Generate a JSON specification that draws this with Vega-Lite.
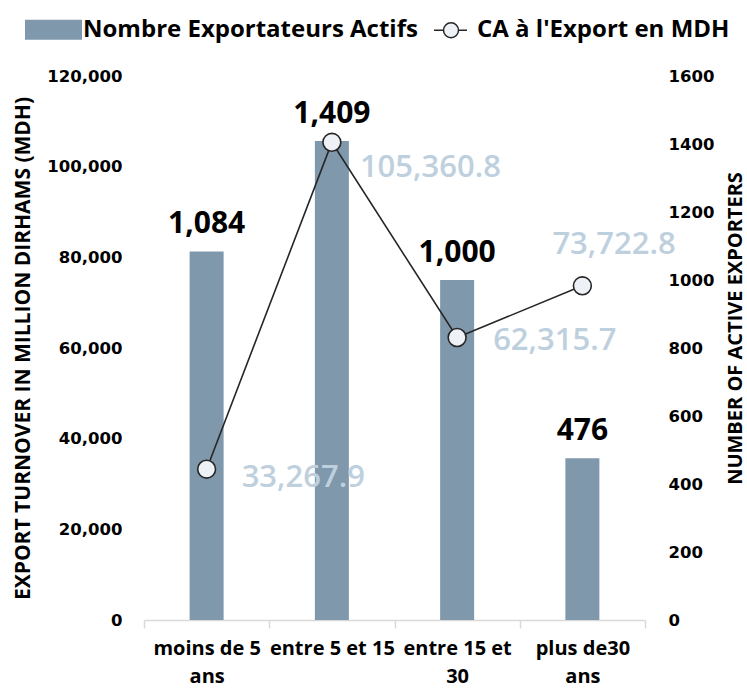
{
  "$schema": "https://vega.github.io/schema/vega-lite/v6.json",
  "width": 501,
  "height": 544,
  "autosize": {"type": "none"},
  "padding": {"left": 144, "top": 76, "right": 102, "bottom": 72},
  "background": "white",
  "config": {"view": {"stroke": null}, "font": "Open Sans"},
  "data": {
    "values": [
      {"tranche": "moins de 5 ans", "exportateurs": 1084, "ca": 33267.9},
      {"tranche": "entre 5 et 15", "exportateurs": 1409, "ca": 105360.8},
      {"tranche": "entre 15 et 30", "exportateurs": 1000, "ca": 62315.7},
      {"tranche": "plus de30 ans", "exportateurs": 476, "ca": 73722.8}
    ]
  },
  "encoding": {
    "x": {
      "field": "tranche",
      "type": "nominal",
      "sort": null,
      "scale": {"paddingInner": 0, "paddingOuter": 0},
      "axis": {
        "title": null,
        "labelAngle": 0,
        "tickBand": "extent",
        "tickSize": 8,
        "tickColor": "#D9D9D9",
        "tickWidth": 1.5,
        "domainColor": "#D9D9D9",
        "domainWidth": 1.5,
        "labelFont": "Open Sans",
        "labelFontWeight": "bold",
        "labelFontSize": 20,
        "labelColor": "#000000",
        "labelPadding": 10,
        "labelLineHeight": 28,
        "labelOverlap": false,
        "labelExpr": "!isString(datum.value) ? '' : datum.value == 'entre 5 et 15' ? datum.value : [slice(datum.value, 0, lastindexof(datum.value, ' ')), slice(datum.value, lastindexof(datum.value, ' ') + 1)]"
      }
    }
  },
  "layer": [
    {
      "layer": [
        {
          "mark": {"type": "bar", "size": 34},
          "encoding": {
            "y": {
              "field": "exportateurs",
              "type": "quantitative",
              "stack": null,
              "scale": {"domain": [0, 1600]},
              "axis": {
                "orient": "right",
                "title": "NUMBER OF ACTIVE EXPORTERS",
                "values": [0, 200, 400, 600, 800, 1000, 1200, 1400, 1600],
                "format": "d",
                "ticks": false,
                "domain": false,
                "grid": false,
                "labelPadding": 23,
                "labelFont": "DejaVu Sans",
                "labelFontWeight": "bold",
                "labelFontSize": 16.5,
                "labelColor": "#000000",
                "titleFont": "Open Sans",
                "titleFontWeight": "bold",
                "titleFontSize": 20,
                "titleColor": "#000000",
                "titleAngle": 270,
                "titleX": 90,
                "titleY": 252,
                "titleAlign": "center",
                "titleBaseline": "middle"
              }
            },
            "color": {
              "datum": "Nombre Exportateurs Actifs",
              "type": "nominal",
              "scale": {
                "domain": ["Nombre Exportateurs Actifs", "CA à l'Export en MDH"],
                "range": ["#8098AC", "#EEF2F6"]
              },
              "legend": {
                "orient": "none",
                "legendX": -120,
                "legendY": -76,
                "direction": "horizontal",
                "title": null,
                "padding": 0,
                "labelFont": "Open Sans",
                "labelFontWeight": "bold",
                "labelFontSize": 24,
                "labelColor": "#000000",
                "labelOffset": 0,
                "columnPadding": -11,
                "labelLimit": 0,
                "symbolSize": 3249,
                "symbolStrokeWidth": 1.5,
                "encode": {
                  "symbols": {
                    "update": {
                      "shape": {"signal": "datum.index === 0 ? 'M-1,-0.35H1V0.35H-1Z' : 'M-0.474,0H-0.14M0.386,0H0.684M-0.14,0A0.263,0.263,0,1,0,0.386,0A0.263,0.263,0,1,0,-0.14,0Z'"},
                      "size": {"value": 3249},
                      "strokeWidth": {"value": 1.5},
                      "stroke": {"signal": "datum.index === 0 ? 'transparent' : '#262626'"},
                      "opacity": {"value": 1},
                      "fillOpacity": {"value": 1},
                      "strokeOpacity": {"value": 1}
                    }
                  }
                }
              }
            }
          }
        },
        {
          "mark": {"type": "text", "baseline": "alphabetic", "align": "center", "dy": -18, "font": "Open Sans", "fontSize": 30, "fontWeight": "bold", "fill": "#000000"},
          "encoding": {
            "y": {"field": "exportateurs", "type": "quantitative"},
            "text": {"field": "exportateurs", "type": "quantitative", "format": ",d"}
          }
        }
      ]
    },
    {
      "layer": [
        {
          "mark": {"type": "line", "strokeWidth": 1.6, "stroke": "#262626"},
          "encoding": {
            "y": {
              "field": "ca",
              "type": "quantitative",
              "scale": {"domain": [0, 120000]},
              "axis": {
                "orient": "left",
                "title": "EXPORT TURNOVER IN MILLION DIRHAMS (MDH)",
                "values": [0, 20000, 40000, 60000, 80000, 100000, 120000],
                "format": ",d",
                "ticks": false,
                "domain": false,
                "grid": false,
                "labelPadding": 22,
                "labelFont": "DejaVu Sans",
                "labelFontWeight": "bold",
                "labelFontSize": 16.5,
                "labelColor": "#000000",
                "titleFont": "Open Sans",
                "titleFontWeight": "bold",
                "titleFontSize": 21,
                "titleColor": "#000000",
                "titleAngle": 270,
                "titleX": -121,
                "titleY": 272,
                "titleAlign": "center",
                "titleBaseline": "middle"
              }
            }
          }
        },
        {
          "mark": {"type": "point", "shape": "circle", "filled": true, "fill": "#EEF2F6", "stroke": "#262626", "strokeWidth": 1.6, "size": 320, "opacity": 1},
          "encoding": {"y": {"field": "ca", "type": "quantitative"}}
        },
        {
          "transform": [{"filter": "datum.tranche == 'moins de 5 ans'"}],
          "mark": {"type": "text", "align": "left", "baseline": "middle", "dx": 35, "dy": 9, "font": "Open Sans", "fontSize": 31, "fontWeight": 600, "fill": "#BED0DE"},
          "encoding": {"y": {"field": "ca", "type": "quantitative"}, "text": {"field": "ca", "type": "quantitative", "format": ",.1f"}}
        },
        {
          "transform": [{"filter": "datum.tranche == 'entre 5 et 15'"}],
          "mark": {"type": "text", "align": "left", "baseline": "middle", "dx": 28, "dy": 26, "font": "Open Sans", "fontSize": 31, "fontWeight": 600, "fill": "#BED0DE"},
          "encoding": {"y": {"field": "ca", "type": "quantitative"}, "text": {"field": "ca", "type": "quantitative", "format": ",.1f"}}
        },
        {
          "transform": [{"filter": "datum.tranche == 'entre 15 et 30'"}],
          "mark": {"type": "text", "align": "left", "baseline": "middle", "dx": 36, "dy": 3, "font": "Open Sans", "fontSize": 31, "fontWeight": 600, "fill": "#BED0DE"},
          "encoding": {"y": {"field": "ca", "type": "quantitative"}, "text": {"field": "ca", "type": "quantitative", "format": ",.1f"}}
        },
        {
          "transform": [{"filter": "datum.tranche == 'plus de30 ans'"}],
          "mark": {"type": "text", "align": "left", "baseline": "middle", "dx": -30, "dy": -41, "font": "Open Sans", "fontSize": 31, "fontWeight": 600, "fill": "#BED0DE"},
          "encoding": {"y": {"field": "ca", "type": "quantitative"}, "text": {"field": "ca", "type": "quantitative", "format": ",.1f"}}
        }
      ]
    }
  ],
  "resolve": {"scale": {"y": "independent"}}
}
